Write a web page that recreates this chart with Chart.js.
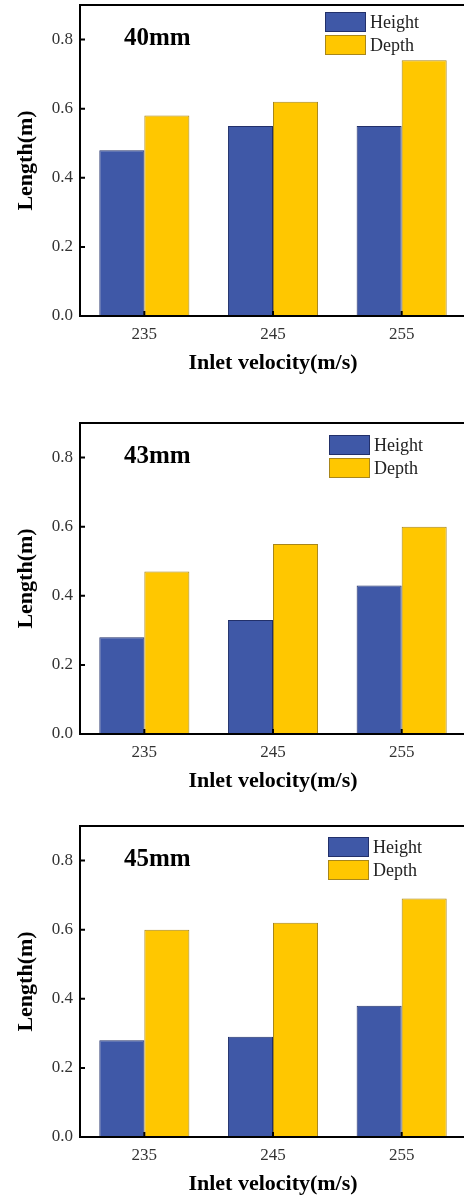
<!DOCTYPE html>
<html>
<head>
<meta charset="utf-8">
<script src="https://cdn.jsdelivr.net/npm/chart.js@4"></script>
<style>
  body { margin: 0; background: #fff; overflow: hidden; }
  #wrap { position: relative; width: 464px; height: 1200px; overflow: hidden; }
  #wrap canvas { position: absolute; left: 0; }
</style>
</head>
<body>
<div id="wrap">
  <canvas id="c40" width="470" height="379" style="top:0px"></canvas>
  <canvas id="c43" width="470" height="379" style="top:418px"></canvas>
  <canvas id="c45" width="470" height="379" style="top:821px"></canvas>
</div>
<script>
const categories = ['235', '245', '255'];
const yTicks = [0, 0.2, 0.4, 0.6, 0.8];

const height40 = [0.48, 0.55, 0.55];
const depth40 = [0.58, 0.62, 0.74];
const height43 = [0.28, 0.33, 0.43];
const depth43 = [0.47, 0.55, 0.60];
const height45 = [0.28, 0.29, 0.38];
const depth45 = [0.60, 0.62, 0.69];

const panelLabels = ['40mm', '43mm', '45mm'];

const SERIF = '"Liberation Serif", "Times New Roman", serif';
const BLUE = '#3F58A7';
const YELLOW = '#FFC700';

// frame, inward ticks, panel label and legend inside the plot
const framePlugin = {
  id: 'frame',
  afterDatasetsDraw(chart, args, opts) {
    const { ctx, chartArea: a, scales: { x, y } } = chart;
    ctx.save();
    ctx.strokeStyle = '#000';
    ctx.lineWidth = 2;
    ctx.strokeRect(a.left, a.top, a.right - a.left, a.bottom - a.top);

    ctx.beginPath();
    yTicks.forEach(v => {
      const py = y.getPixelForValue(v);
      ctx.moveTo(a.left, py);
      ctx.lineTo(a.left + 5, py);
    });
    categories.forEach((c, i) => {
      const px = x.getPixelForValue(i);
      ctx.moveTo(px, a.bottom);
      ctx.lineTo(px, a.bottom - 5);
    });
    ctx.stroke();

    ctx.fillStyle = '#000';
    ctx.font = 'bold 25px ' + SERIF;
    ctx.textBaseline = 'alphabetic';
    ctx.fillText(opts.label, a.left + 44, a.top + 40);

    chart.data.datasets.forEach((ds, i) => {
      const bx = a.left + opts.legendX;
      const by = a.top + opts.legendY + i * 23;
      ctx.fillStyle = ds.backgroundColor;
      ctx.fillRect(bx, by, 41, 20);
      ctx.strokeStyle = ds.borderColor;
      ctx.lineWidth = 1;
      ctx.strokeRect(bx + 0.5, by + 0.5, 40, 19);
      ctx.fillStyle = '#222';
      ctx.font = '18px ' + SERIF;
      ctx.textBaseline = 'middle';
      ctx.fillText(ds.label, bx + 45, by + 11);
    });
    ctx.restore();
  }
};

function makePanel(id, heights, depths, label, legendX, legendY) {
  return new Chart(document.getElementById(id), {
    type: 'bar',
    data: {
      labels: categories,
      datasets: [{
        label: 'Height',
        data: heights,
        backgroundColor: BLUE,
        borderColor: '#22306A',
        borderWidth: 1,
        barPercentage: 1.0,
        categoryPercentage: 0.7,
      }, {
        label: 'Depth',
        data: depths,
        backgroundColor: YELLOW,
        borderColor: '#A8861A',
        borderWidth: 1,
        barPercentage: 1.0,
        categoryPercentage: 0.7,
      }],
    },
    options: {
      responsive: false,
      animation: false,
      layout: {
        padding: { top: 5, left: 0, right: 4, bottom: 0 }
      },
      scales: {
        x: {
          grid: { display: false, drawTicks: false },
          border: { display: false },
          ticks: {
            color: '#333',
            padding: 8,
            font: { family: SERIF, size: 17 },
          },
          title: {
            display: true,
            text: 'Inlet velocity(m/s)',
            color: '#000',
            padding: { top: 0, bottom: 2 },
            font: { family: SERIF, size: 22, weight: 'bold' },
          },
          afterFit: scale => {
            scale.height = 63;
            scale.paddingLeft = 0;
            scale.paddingRight = 0;
          },
        },
        y: {
          min: 0,
          max: 0.9,
          grid: { display: false, drawTicks: false },
          border: { display: false },
          afterBuildTicks: scale => {
            scale.ticks = yTicks.map(v => ({ value: v }));
          },
          ticks: {
            color: '#333',
            padding: 7,
            font: { family: SERIF, size: 17 },
            callback: v => Number(v).toFixed(1),
          },
          title: {
            display: true,
            text: 'Length(m)',
            color: '#000',
            padding: { top: 13, bottom: 0 },
            font: { family: SERIF, size: 22, weight: 'bold' },
          },
          afterFit: scale => {
            scale.width = 80;
            scale.paddingTop = 0;
            scale.paddingBottom = 0;
          },
        },
      },
      plugins: {
        legend: { display: false },
        tooltip: { enabled: false },
        frame: { label: label, legendX: legendX, legendY: legendY },
      },
    },
    plugins: [framePlugin],
  });
}

makePanel('c40', height40, depth40, panelLabels[0], 245, 7);
makePanel('c43', height43, depth43, panelLabels[1], 249, 12);
makePanel('c45', height45, depth45, panelLabels[2], 248, 11);
</script>
</body>
</html>
